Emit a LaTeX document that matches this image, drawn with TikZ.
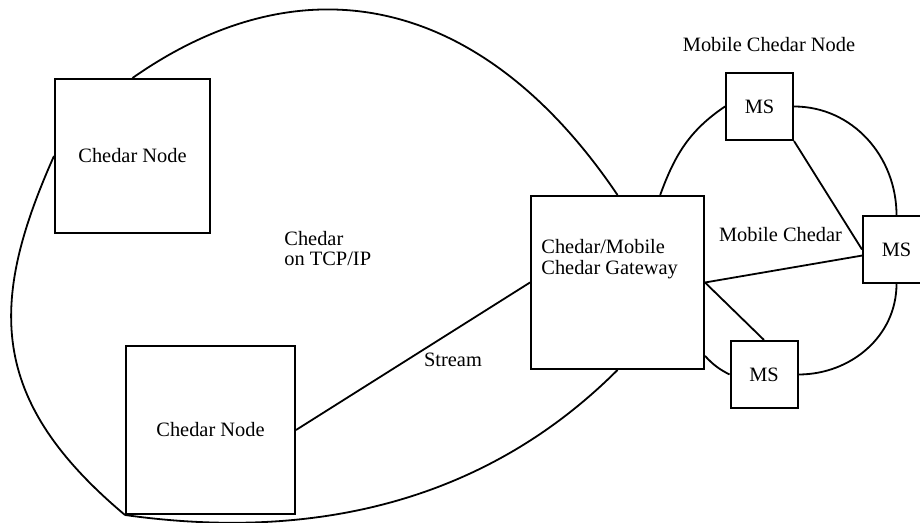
\documentclass[tikz,border=0pt]{standalone}
\usepackage{fontspec}
\setmainfont{Liberation Serif}

\begin{document}
\begin{tikzpicture}[x=0.5pt,y=0.5pt,font=\fontsize{10.2}{10.4}\selectfont,
	nodebox/.style={draw, line width=1pt, inner sep=0pt},
	link/.style={line width=0.9pt},
	tag/.style={inner sep=0pt, align=left}]
	\useasboundingbox	(0,0) rectangle (920,523);

	\node[nodebox, minimum width=77.5pt, minimum height=77pt]	(cn1) at (132.5,367) {Chedar Node};
	\node[nodebox, minimum width=84.5pt, minimum height=84pt]	(cn2) at (210.5,93) {Chedar Node};
	\node[nodebox, minimum size=86.5pt]						(gw) at (617.5,240.5) {};
	\node[nodebox, minimum size=33.5pt]						(ms1) at (759.5,416.5) {MS};
	\node[nodebox, minimum size=33.5pt]						(ms2) at (896.5,273.5) {MS};
	\node[nodebox, minimum size=33.5pt]						(ms3) at (764,148.5) {MS};

	\node[tag, anchor=west]	(gwtext) at ([xshift=5.5pt,yshift=11.5pt]gw.west) {Chedar/Mobile\\Chedar Gateway};
	\node[tag, anchor=west]	(tcpip) at (284,274.5) {Chedar\\on TCP/IP};
	\node					(stream) at (453,163) {Stream};
	\node					(mobile) at (780.5,288) {Mobile Chedar};
	\node					(mobilenode) at (769,478) {Mobile Chedar Node};

	% Chedar on TCP/IP
	\draw[link]	(cn1.north) .. controls +(35:215) and +(124:235) .. (gw.north);
	\draw[link]	(gw.south) .. controls +(225:170) and +(-8:210) .. (cn2.south west);
	\draw[link]	(cn2.south west) .. controls +(140:180) and +(246:160) .. (cn1.west);
	\draw[link]	(cn2.east) -- (gw.west);

	% Mobile Chedar
	\draw[link]	(gw.64) to[out=70,in=-146] (ms1.west);
	\draw[link]	(ms1.east) to[out=0,in=90] (ms2.north);
	\draw[link]	(ms2.south) to[out=-90,in=0] (ms3.east);
	\draw[link]	(gw.-40) to[bend right=10] (ms3.west);
	\draw[link]	(gw.east) -- (ms2.190);
	\draw[link]	(gw.east) -- (ms3.north);
	\draw[link]	(ms1.south east) -- (ms2.west);
\end{tikzpicture}
\end{document}
